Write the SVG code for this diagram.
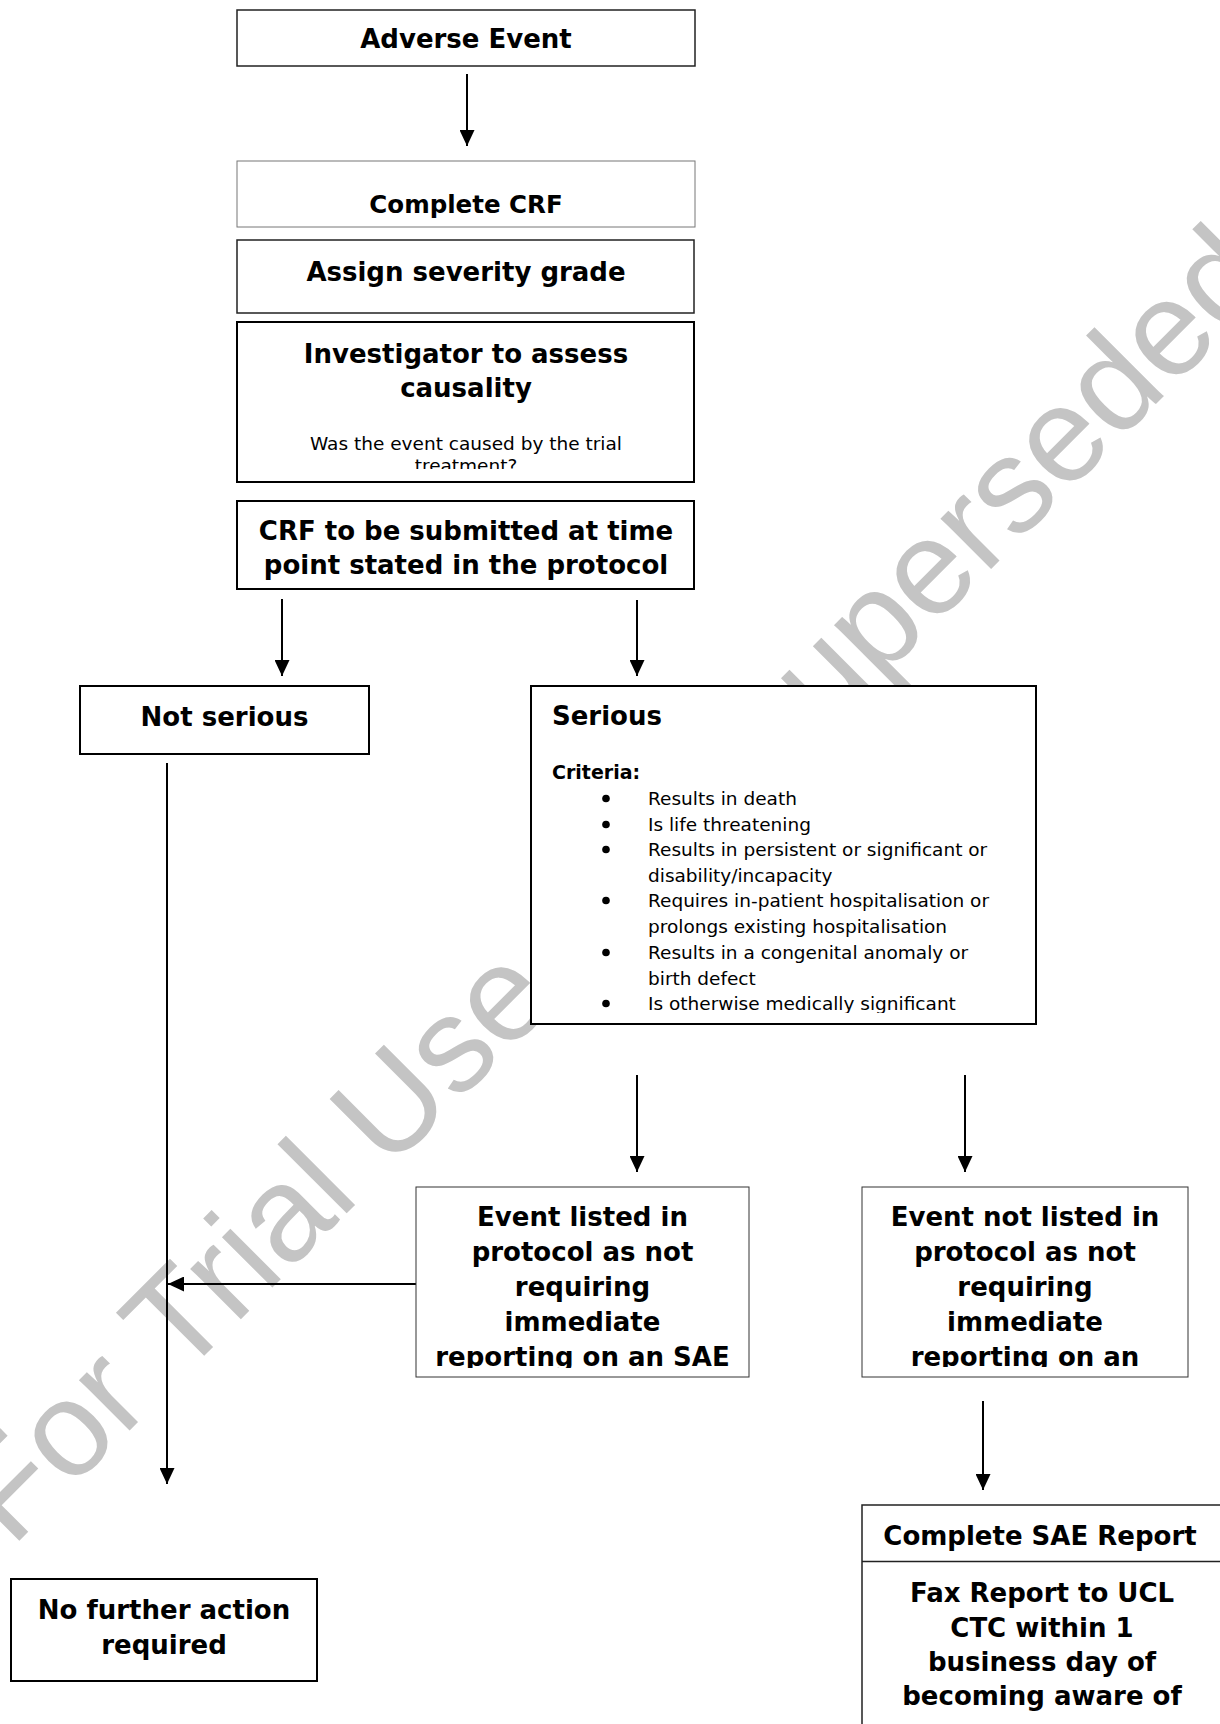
<svg xmlns="http://www.w3.org/2000/svg" width="1220" height="1724" viewBox="0 0 1220 1724">
<style>
.b{font-family:"DejaVu Sans",Verdana,sans-serif;font-weight:bold;font-size:26px;fill:#000}
.cr{font-family:"DejaVu Sans",Verdana,sans-serif;font-weight:bold;font-size:19px;fill:#000}
.r{font-family:"DejaVu Sans",Verdana,sans-serif;font-size:18.5px;fill:#000}
.c{text-anchor:middle}
.box{fill:#fff;stroke:#000;stroke-width:2}
.mid{fill:#fff;stroke:#222;stroke-width:1.5}
.thin{fill:#fff;stroke:#333;stroke-width:1}
.light{fill:#fff;stroke:#777;stroke-width:1}
.conn{stroke:#000;stroke-width:2;fill:none;marker-end:url(#ah)}
.wm{font-family:"Liberation Sans",Arial,sans-serif;font-size:135px;fill:#c4c4c4}
</style>
<defs>
<marker id="ah" markerUnits="userSpaceOnUse" markerWidth="16" markerHeight="15" refX="16" refY="7.5" orient="auto">
<path d="M0,0 L16,7.5 L0,15 z" fill="#000"/>
</marker>
<clipPath id="clipInv"><rect x="237" y="322" width="457" height="147"/></clipPath>
<clipPath id="clipSer"><rect x="531" y="686" width="505" height="327"/></clipPath>
<clipPath id="clipEL"><rect x="416" y="1187" width="333" height="181"/></clipPath>
<clipPath id="clipENL"><rect x="862" y="1187" width="326" height="180"/></clipPath>
</defs>
<rect width="1220" height="1724" fill="#fff"/>

<g id="watermark">
<text class="wm" transform="translate(11.5,1548.5) rotate(-45)">For Trial Use</text>
<text class="wm" transform="translate(761.5,798.5) rotate(-45)">Superseded</text>
</g>

<g id="connectors">
<line class="conn" x1="467" y1="74" x2="467" y2="146"/>
<line class="conn" x1="282" y1="599" x2="282" y2="676"/>
<line class="conn" x1="637" y1="600" x2="637" y2="676"/>
<line class="conn" x1="167" y1="763" x2="167" y2="1484"/>
<line class="conn" x1="637" y1="1075" x2="637" y2="1172"/>
<line class="conn" x1="965" y1="1075" x2="965" y2="1172"/>
<line class="conn" x1="416" y1="1284" x2="168" y2="1284"/>
<line class="conn" x1="983" y1="1401" x2="983" y2="1490"/>
</g>

<g id="adverse-event">
<rect class="mid" x="237" y="10" width="458" height="56"/>
<text class="b c" x="466" y="48">Adverse Event</text>
</g>

<g id="complete-crf">
<rect class="light" x="237" y="161" width="458" height="66"/>
<text class="b c" x="466" y="213" style="font-size:24.5px">Complete CRF</text>
</g>

<g id="assign-severity">
<rect class="mid" x="237" y="240" width="457" height="73"/>
<text class="b c" x="466" y="281">Assign severity grade</text>
</g>

<g id="investigator">
<rect class="box" x="237" y="322" width="457" height="160"/>
<text class="b c" x="466" y="363">Investigator to assess</text>
<text class="b c" x="466" y="397">causality</text>
<g clip-path="url(#clipInv)">
<text class="r c" x="466" y="450">Was the event caused by the trial</text>
<text class="r c" x="466" y="472">treatment?</text>
</g>
</g>

<g id="crf-submitted">
<rect class="box" x="237" y="501" width="457" height="88"/>
<text class="b c" x="466" y="540">CRF to be submitted at time</text>
<text class="b c" x="466" y="574">point stated in the protocol</text>
</g>

<g id="not-serious">
<rect class="box" x="80" y="686" width="289" height="68"/>
<text class="b c" x="224.5" y="726">Not serious</text>
</g>

<g id="serious">
<rect class="box" x="531" y="686" width="505" height="338"/>
<text class="b" x="552" y="725">Serious</text>
<text class="cr" x="552" y="779">Criteria:</text>
<g clip-path="url(#clipSer)">
<circle cx="606" cy="798.5" r="3.8"/>
<circle cx="606" cy="824.5" r="3.8"/>
<circle cx="606" cy="849.5" r="3.8"/>
<circle cx="606" cy="900.5" r="3.8"/>
<circle cx="606" cy="952.5" r="3.8"/>
<circle cx="606" cy="1003.5" r="3.8"/>
<text class="r" x="648" y="805">Results in death</text>
<text class="r" x="648" y="831">Is life threatening</text>
<text class="r" x="648" y="856">Results in persistent or significant or</text>
<text class="r" x="648" y="882">disability/incapacity</text>
<text class="r" x="648" y="907">Requires in-patient hospitalisation or</text>
<text class="r" x="648" y="933">prolongs  existing hospitalisation</text>
<text class="r" x="648" y="959">Results in a congenital anomaly or</text>
<text class="r" x="648" y="985">birth defect</text>
<text class="r" x="648" y="1010">Is otherwise medically significant</text>
</g>
</g>

<g id="event-listed">
<rect class="thin" x="416" y="1187" width="333" height="190"/>
<g clip-path="url(#clipEL)">
<text class="b c" x="582.5" y="1226">Event listed in</text>
<text class="b c" x="582.5" y="1261">protocol as not</text>
<text class="b c" x="582.5" y="1296">requiring</text>
<text class="b c" x="582.5" y="1331">immediate</text>
<text class="b c" x="582.5" y="1366">reporting on an SAE</text>
</g>
</g>

<g id="event-not-listed">
<rect class="thin" x="862" y="1187" width="326" height="190"/>
<g clip-path="url(#clipENL)">
<text class="b c" x="1025" y="1226">Event not listed in</text>
<text class="b c" x="1025" y="1261">protocol as not</text>
<text class="b c" x="1025" y="1296">requiring</text>
<text class="b c" x="1025" y="1331">immediate</text>
<text class="b c" x="1025" y="1366">reporting on an</text>
</g>
</g>

<g id="no-further-action">
<rect class="box" x="11" y="1579" width="306" height="102"/>
<text class="b c" x="164" y="1619">No further action</text>
<text class="b c" x="164" y="1654">required</text>
</g>

<g id="sae-report">
<rect class="mid" x="862" y="1505" width="420" height="260"/>
<line x1="862" y1="1561.5" x2="1220" y2="1561.5" stroke="#222" stroke-width="1.5"/>
<text class="b c" x="1040" y="1545">Complete SAE Report</text>
<text class="b c" x="1042" y="1602">Fax Report to UCL</text>
<text class="b c" x="1042" y="1637">CTC within 1</text>
<text class="b c" x="1042" y="1671">business day of</text>
<text class="b c" x="1042" y="1705">becoming aware of</text>
</g>
</svg>
